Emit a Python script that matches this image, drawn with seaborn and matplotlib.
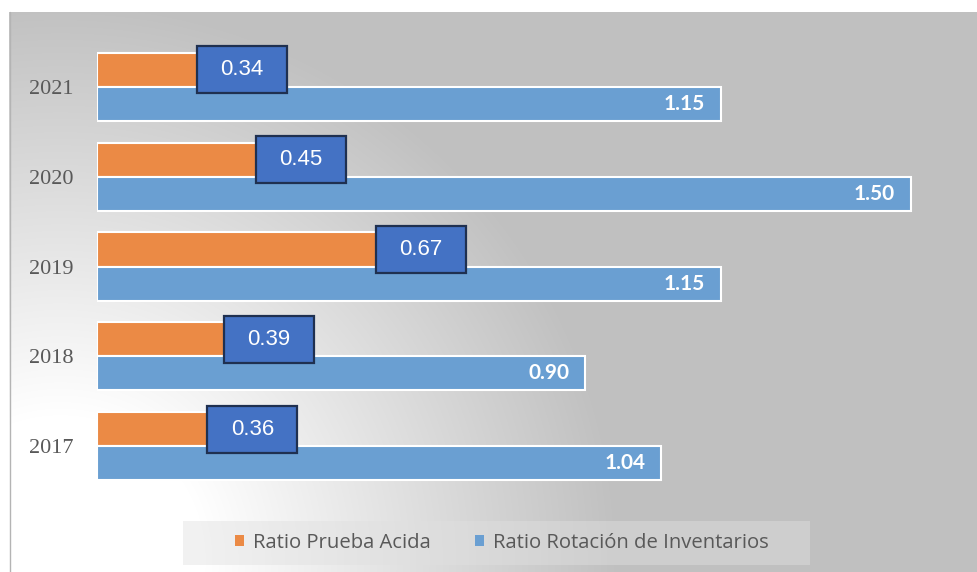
import numpy as np
import pandas as pd
import matplotlib
matplotlib.use("Agg")
import matplotlib.pyplot as plt
import seaborn as sns
from matplotlib.patches import Rectangle, Patch
from matplotlib.lines import Line2D

# ---- data ----
years = ["2021", "2020", "2019", "2018", "2017"]
prueba_acida = [0.34, 0.45, 0.67, 0.39, 0.36]
rotacion_inventarios = [1.15, 1.50, 1.15, 0.90, 1.04]
series_names = ["Ratio Prueba Acida", "Ratio Rotación de Inventarios"]
series_colors = ["#EB8A45", "#6A9FD2"]

df = pd.DataFrame({
    "Año": years * 2,
    "Valor": prueba_acida + rotacion_inventarios,
    "Serie": [series_names[0]] * len(years) + [series_names[1]] * len(years),
})

W, H, DPI = 978, 572, 100
sns.set_theme(style="white")
fig = plt.figure(figsize=(W / DPI, H / DPI), dpi=DPI, facecolor="white")


def fx(px):
    return px / W


def fy(py):
    return 1 - py / H


# ---- shaded panel behind the chart ----
bg = fig.add_axes([fx(9), 0, fx(W - 9), (H - 12) / H])
yy, xx = np.mgrid[12:H, 9:W]
dist = np.hypot(xx - 60, yy - 560)
t = np.clip(1 - dist / 560, 0, 1)
shade = (192 + 63 * np.clip(1.35 * t, 0, 1)) / 255
bg.imshow(np.dstack([shade, shade, shade]), extent=[9, W, H, 12],
          aspect="auto", interpolation="bilinear")
bg.set_xlim(9, W)
bg.set_ylim(H, 12)
bg.axis("off")
fig.add_artist(Line2D([fx(9.5), fx(9.5)], [0, fy(12)], color="#b4b4b4", lw=1))

# ---- bars ----
PX_PER_UNIT = 542.7
ROW_PX = 89.8
ax = fig.add_axes([fx(97), fy(491), fx(1.6 * PX_PER_UNIT), 5 * ROW_PX / H])
ax.patch.set_alpha(0)
sns.barplot(data=df, x="Valor", y="Año", hue="Serie", order=years,
            hue_order=series_names, palette=series_colors, orient="h",
            width=0.76, edgecolor="white", linewidth=1.5, errorbar=None,
            legend=False, saturation=1, ax=ax)
ax.set_xlim(0, 1.6)
ax.set_ylim(4.5, -0.5)
ax.set_xticks([])
ax.set_xlabel("")
ax.set_ylabel("")
sns.despine(ax=ax, left=True, bottom=True)
ax.tick_params(axis="y", length=0, pad=17, labelsize=16, labelcolor="#595959")
for lbl in ax.get_yticklabels():
    lbl.set_family("Liberation Serif")

half = 0.19
# value labels at the end of the inventory-turnover bars
for i, v in enumerate(rotacion_inventarios):
    ax.annotate(f"{v:.2f}", xy=(v, i + half), xytext=(-11.5, 0),
                textcoords="offset points", ha="right", va="center",
                color="white", fontweight="bold", fontsize=15, family="Lato")

# boxed labels for the acid-test bars
bw = 90 / PX_PER_UNIT
bh = 47 / ROW_PX
for i, v in enumerate(prueba_acida):
    right = v + 5 / PX_PER_UNIT
    ax.add_patch(Rectangle((right - bw, i - half - bh / 2), bw, bh,
                           facecolor="#4472C4", edgecolor="#1F3050",
                           lw=1.6, zorder=5))
    ax.text(right - bw / 2, i - half, f"{v:.2f}", ha="center", va="center",
            color="white", fontsize=16, family="Liberation Sans", zorder=6)

# ---- legend ----
fig.add_artist(Rectangle((fx(183), fy(565)), fx(627), 44 / H,
                         transform=fig.transFigure, facecolor="#e0e0e0",
                         alpha=0.45, edgecolor="none"))
handles = [Patch(facecolor=c, edgecolor="none") for c in series_colors]
fig.legend(handles, series_names, loc="center left",
           bbox_to_anchor=(fx(235), fy(543)), ncol=2, frameon=False,
           handlelength=0.44, handleheight=0.44, handletextpad=0.44,
           columnspacing=2.2, borderpad=0, borderaxespad=0,
           prop=dict(family="Open Sans", size=14.6), labelcolor="#595959")

fig.savefig("out.png", dpi=DPI, facecolor="white")
